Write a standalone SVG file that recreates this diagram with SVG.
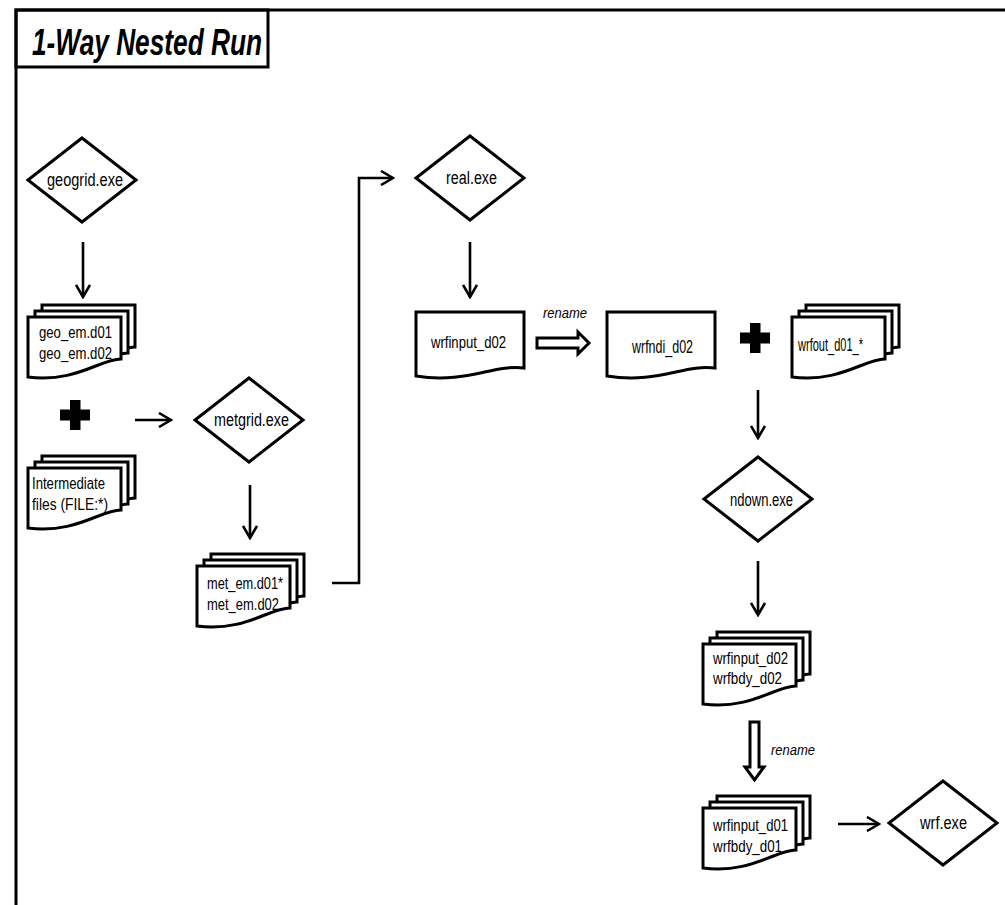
<svg xmlns="http://www.w3.org/2000/svg" width="1005" height="905" viewBox="0 0 1005 905">
<style>
.frame{fill:none;stroke:#000;stroke-width:3}
.shape{fill:#fff;stroke:#000;stroke-width:3;stroke-linejoin:miter}
.conn{fill:none;stroke:#000;stroke-width:2.6}
.fat{fill:#fff;stroke:#000;stroke-width:3;stroke-linejoin:miter}
.plus{fill:#000}
text{font-family:"Liberation Sans",Arial,sans-serif;font-size:16px;fill:#000}
.big{font-size:18px}
.title{font-size:37px;font-weight:bold;font-style:italic}
.lbl{font-size:15px;font-style:italic}
</style>
<defs>
<marker id="arr" markerUnits="userSpaceOnUse" markerWidth="16" markerHeight="16" viewBox="0 0 16 16" refX="14" refY="8" orient="auto">
<path d="M2,1 L14,8 L2,15" fill="none" stroke="#000" stroke-width="2.6"/>
</marker>
<polygon id="dia" points="0,-42 54,0 0,42 -54,0"/>
<path id="sdoc" d="M0,0 H93 V42 C72,42 48,66 0,60 Z"/>
<path id="doc" d="M0,0 H108 V56 C78,52 50,72 0,64 Z"/>
<g id="stk">
<use href="#sdoc" x="14" y="-12"/>
<use href="#sdoc" x="7" y="-6"/>
<use href="#sdoc"/>
</g>
<path id="pl" d="M-5,-15 H5.5 V-5.5 H15 V5.5 H5.5 V15 H-5 V5.5 H-15 V-5.5 H-5 Z"/>
</defs>
<rect class="frame" x="16" y="10" width="1000" height="900"/>
<g id="title">
<rect class="frame" x="16" y="10" width="252" height="57"/>
<text class="title" x="32" y="55" textLength="230" lengthAdjust="spacingAndGlyphs">1-Way Nested Run</text>
</g>
<g id="connectors">
<line class="conn" x1="83" y1="242" x2="83" y2="297" marker-end="url(#arr)"/>
<line class="conn" x1="135" y1="420" x2="171" y2="420" marker-end="url(#arr)"/>
<line class="conn" x1="250" y1="485" x2="250" y2="538" marker-end="url(#arr)"/>
<polyline class="conn" points="332,583 359,583 359,178 393,178" marker-end="url(#arr)"/>
<line class="conn" x1="470" y1="242" x2="470" y2="297" marker-end="url(#arr)"/>
<polygon class="fat" points="537,338 578,338 578,332 589,343 578,354 578,348 537,348"/>
<text class="lbl" x="543" y="318" textLength="44" lengthAdjust="spacingAndGlyphs">rename</text>
<line class="conn" x1="758" y1="390" x2="758" y2="438" marker-end="url(#arr)"/>
<line class="conn" x1="758" y1="561" x2="758" y2="615" marker-end="url(#arr)"/>
<polygon class="fat" points="750,722 759,722 759,767 764,767 754.5,780 745,767 750,767"/>
<text class="lbl" x="771" y="755" textLength="44" lengthAdjust="spacingAndGlyphs">rename</text>
<line class="conn" x1="838" y1="824" x2="879" y2="824" marker-end="url(#arr)"/>
</g>
<g id="geogrid">
<use href="#dia" class="shape" x="82" y="180"/>
<text class="big" x="47" y="186" textLength="76" lengthAdjust="spacingAndGlyphs">geogrid.exe</text>
</g>
<g id="geo_em">
<use href="#stk" class="shape" x="28" y="317"/>
<text x="39" y="338" textLength="73" lengthAdjust="spacingAndGlyphs">geo_em.d01</text>
<text x="39" y="359" textLength="73" lengthAdjust="spacingAndGlyphs">geo_em.d02</text>
</g>
<g id="plus1"><use href="#pl" class="plus" x="75" y="415"/></g>
<g id="intermediate">
<use href="#stk" class="shape" x="28" y="468"/>
<text x="32" y="489" textLength="73" lengthAdjust="spacingAndGlyphs">Intermediate</text>
<text x="32" y="510" textLength="76" lengthAdjust="spacingAndGlyphs">files (FILE:*)</text>
</g>
<g id="metgrid">
<use href="#dia" class="shape" x="249" y="420"/>
<text class="big" x="214" y="426" textLength="75" lengthAdjust="spacingAndGlyphs">metgrid.exe</text>
</g>
<g id="met_em">
<use href="#stk" class="shape" x="197" y="566"/>
<text x="207" y="589" textLength="76" lengthAdjust="spacingAndGlyphs">met_em.d01*</text>
<text x="207" y="610" textLength="72" lengthAdjust="spacingAndGlyphs">met_em.d02</text>
</g>
<g id="real">
<use href="#dia" class="shape" x="470" y="178"/>
<text class="big" x="446" y="184" textLength="51" lengthAdjust="spacingAndGlyphs">real.exe</text>
</g>
<g id="wrfinput_d02_single">
<use href="#doc" class="shape" x="416" y="312"/>
<text x="431" y="348" textLength="75" lengthAdjust="spacingAndGlyphs">wrfinput_d02</text>
</g>
<g id="wrfndi">
<use href="#doc" class="shape" x="607" y="312"/>
<text class="big" x="632" y="353" textLength="61" lengthAdjust="spacingAndGlyphs">wrfndi_d02</text>
</g>
<g id="plus2"><use href="#pl" class="plus" x="755" y="338"/></g>
<g id="wrfout">
<use href="#stk" class="shape" x="792" y="317"/>
<text class="big" x="798" y="351" textLength="65" lengthAdjust="spacingAndGlyphs">wrfout_d01_*</text>
</g>
<g id="ndown">
<use href="#dia" class="shape" x="758" y="499"/>
<text class="big" x="730" y="506" textLength="63" lengthAdjust="spacingAndGlyphs">ndown.exe</text>
</g>
<g id="wrfinput_d02_stack">
<use href="#stk" class="shape" x="703" y="644"/>
<text x="713" y="664" textLength="75" lengthAdjust="spacingAndGlyphs">wrfinput_d02</text>
<text x="713" y="684" textLength="69" lengthAdjust="spacingAndGlyphs">wrfbdy_d02</text>
</g>
<g id="wrfinput_d01_stack">
<use href="#stk" class="shape" x="703" y="808"/>
<text x="713" y="831" textLength="75" lengthAdjust="spacingAndGlyphs">wrfinput_d01</text>
<text x="713" y="852" textLength="69" lengthAdjust="spacingAndGlyphs">wrfbdy_d01</text>
</g>
<g id="wrf">
<use href="#dia" class="shape" x="943" y="823"/>
<text class="big" x="920" y="829" textLength="47" lengthAdjust="spacingAndGlyphs">wrf.exe</text>
</g>
</svg>
